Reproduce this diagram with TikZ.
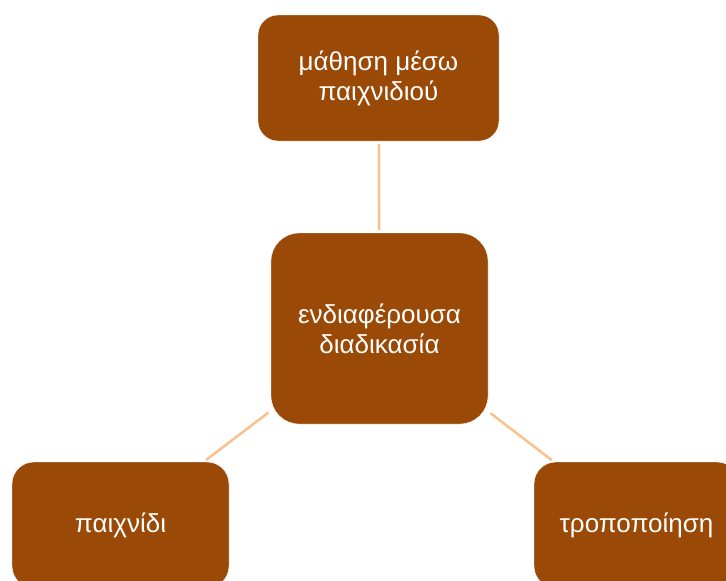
\documentclass[tikz,border=0pt]{standalone}
\usepackage{fontspec}
\setmainfont{Liberation Sans}
\definecolor{boxbrown}{RGB}{154,73,6}
\definecolor{linkpeach}{RGB}{250,192,143}

\begin{document}
\begin{tikzpicture}[x=1pt,y=-1pt]

		\useasboundingbox (0,0) rectangle (726,581);

		% Define styles
		\tikzstyle{topic} = [
		rectangle, rounded corners=20pt, fill=boxbrown,
		draw=white, text=white, align=center, inner sep=0pt,
		font=\fontsize{26}{30}\selectfont]
		\tikzstyle{link} = [draw=linkpeach, line width=2.5pt,
		shorten <=3pt, shorten >=3pt]

		% Nodes
		\node (learning) [topic, minimum width=241pt, minimum height=126pt]
			at (378.5,78) {μάθηση μέσω\\παιχνιδιού};

		\node (process) [topic, rounded corners=28pt, minimum width=217pt,
			minimum height=191pt] at (379.5,328.5) {
			ενδιαφέρουσα\\
			διαδικασία
		};

		\node (game) [topic, rounded corners=22pt, minimum width=217pt,
			minimum height=126pt] at (120.5,525) {παιχνίδι};

		\node (change) [topic, rounded corners=22pt, minimum width=205pt,
			minimum height=126pt] at (636.5,525) {τροποποίηση};

		% Lines
		\draw [link] (learning) -- (process);
		\draw [link] (process) -- (game);
		\draw [link] (process) -- (change);
	\end{tikzpicture}
\end{document}
